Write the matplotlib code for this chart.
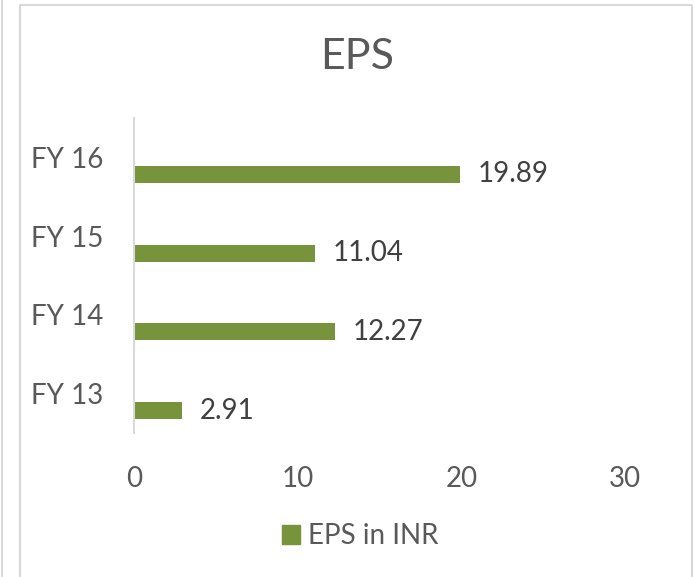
import matplotlib.pyplot as plt
from matplotlib.lines import Line2D
from matplotlib.patches import Patch

# Data
categories = ["FY 13", "FY 14", "FY 15", "FY 16"]
eps_values = [2.91, 12.27, 11.04, 19.89]
series_name = "EPS in INR"
x_ticks = [0, 10, 20, 30]

W, H = 694, 577


def main():
    plt.rcParams["font.family"] = ["Lato", "DejaVu Sans"]

    bar_color = "#77933C"
    text_color = "#595959"
    label_color = "#404040"
    border_color = "#D9D9D9"

    fig = plt.figure(figsize=(W / 100, H / 100), dpi=100)
    ax = fig.add_axes([134 / W, 1 - 433 / H, (625 - 134) / W, (433 - 118) / H])

    # bars sit in the lower half of each category band (Excel clustered look)
    offset = 0.216
    height = 0.216
    ypos = [i - offset for i in range(len(categories))]
    bars = ax.barh(ypos, eps_values, height=height, color=bar_color, label=series_name)

    for b, v in zip(bars, eps_values):
        ax.text(b.get_width() + 1.1, b.get_y() + b.get_height() / 2, f"{v:.2f}",
                va="center", ha="left", fontsize=20, color=label_color)

    ax.set_xlim(0, 30)
    ax.set_ylim(-0.5, len(categories) - 0.5)
    ax.set_xticks(x_ticks)
    ax.set_yticks(range(len(categories)))
    ax.set_yticklabels(categories)
    ax.tick_params(axis="both", length=0, labelsize=20, labelcolor=text_color)
    ax.tick_params(axis="y", pad=22)
    ax.tick_params(axis="x", pad=24)

    for side in ["top", "right", "bottom"]:
        ax.spines[side].set_visible(False)
    ax.spines["left"].set_color(border_color)
    ax.spines["left"].set_linewidth(1.5)

    fig.text(357 / W, 1 - 57 / H, "EPS", ha="center", va="center",
             fontsize=31, color=text_color)

    handle = Patch(facecolor=bar_color, edgecolor=bar_color)
    fig.legend([handle], [series_name], loc="center", bbox_to_anchor=(360 / W, 1 - 536 / H),
               frameon=False, fontsize=20, labelcolor=text_color,
               handlelength=0.65, handleheight=0.65, handletextpad=0.29)

    # chart border
    fig.add_artist(Line2D([20 / W, 20 / W, 692 / W, 692 / W], [0, 1 - 5 / H, 1 - 5 / H, 0],
                          transform=fig.transFigure, color=border_color, linewidth=1.5))
    fig.add_artist(Line2D([1.5 / W, 1.5 / W], [0, 1], transform=fig.transFigure,
                          color=border_color, linewidth=1.5))

    fig.savefig("out.png", dpi=100)
    plt.close(fig)


if __name__ == "__main__":
    main()
